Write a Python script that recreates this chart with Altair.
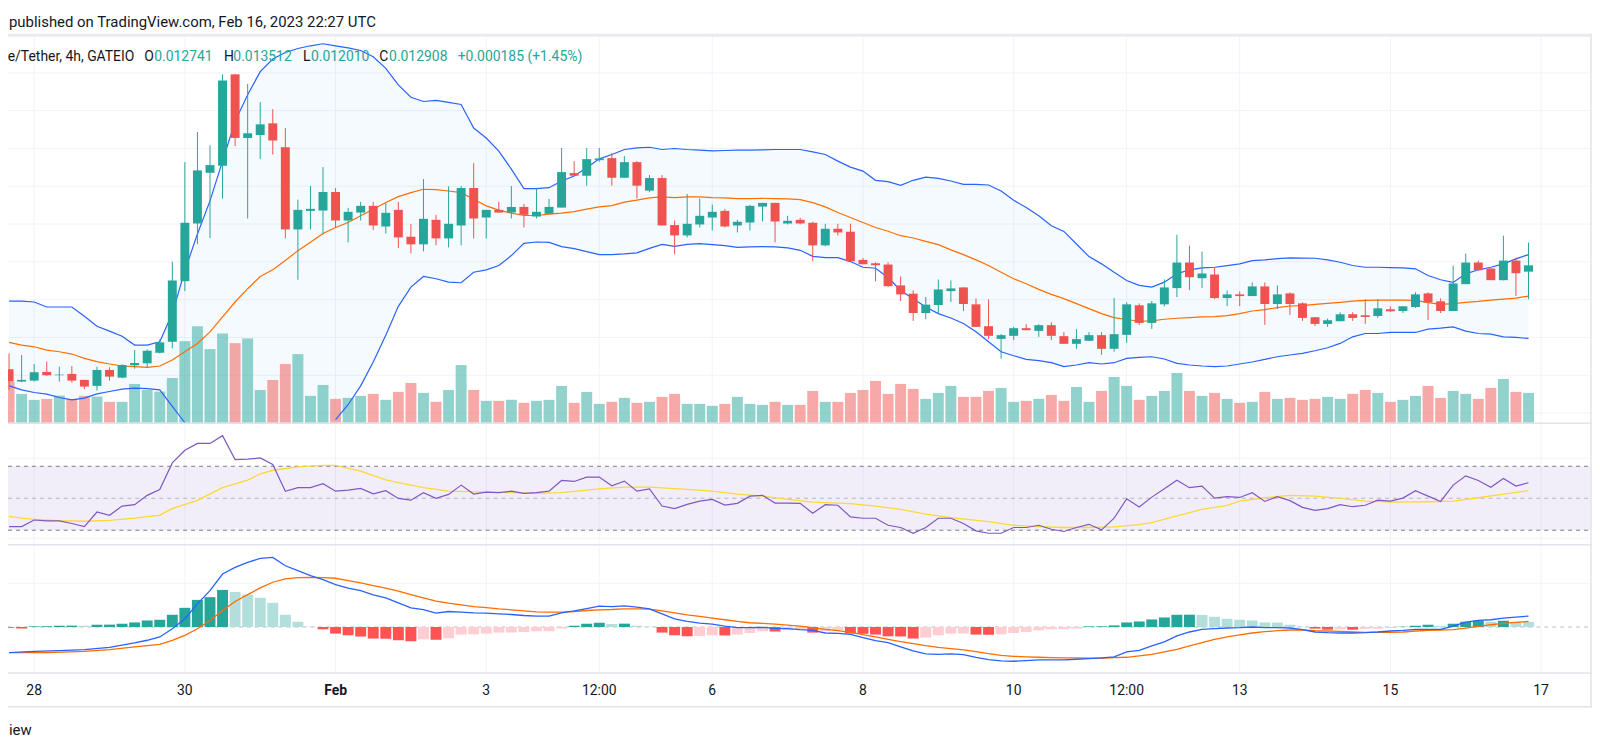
import altair as alt
import pandas as pd

# ---------------- data ----------------
opens = [0.010160, 0.009834, 0.009860, 0.010089, 0.010002, 0.010036, 0.009878, 0.009720, 0.010141, 0.009939,
         0.010265, 0.010317, 0.010596, 0.010886, 0.012490, 0.014015, 0.015356, 0.015541, 0.017960, 0.016277,
         0.016356, 0.016664, 0.016032, 0.013857, 0.014349, 0.014357, 0.014849, 0.014094, 0.014304, 0.014481,
         0.013936, 0.014375, 0.013665, 0.013463, 0.014112, 0.013621, 0.013963, 0.014954, 0.014173, 0.014375,
         0.014304, 0.014454, 0.014199, 0.014270, 0.014436, 0.015349, 0.015278, 0.015690, 0.015743, 0.015225,
         0.015638, 0.014883, 0.015217, 0.013973, 0.013700, 0.013989, 0.014173, 0.014349, 0.013963, 0.014041,
         0.014462, 0.014560, 0.014015, 0.014112, 0.014034, 0.013437, 0.013876, 0.013797, 0.013052, 0.012963,
         0.012929, 0.012377, 0.012158, 0.011648, 0.011859, 0.012227, 0.012324, 0.011877, 0.011298, 0.010964,
         0.011043, 0.011246, 0.011175, 0.011325, 0.011035, 0.010833, 0.010912, 0.011062, 0.010701, 0.011070,
         0.011851, 0.011385, 0.011877, 0.012306, 0.012982, 0.012569, 0.012666, 0.012043, 0.012140, 0.012095,
         0.012350, 0.011885, 0.012166, 0.011903, 0.011535, 0.011359, 0.011430, 0.011614, 0.011588, 0.011569,
         0.011746, 0.011701, 0.011806, 0.012166, 0.011956, 0.011701, 0.012411, 0.012982, 0.012824, 0.012516,
         0.013034, 0.012741]
highs = [0.010580, 0.010536, 0.010299, 0.010360, 0.010228, 0.010246, 0.009885, 0.010228, 0.010212, 0.010290,
         0.010667, 0.010686, 0.010949, 0.013008, 0.015638, 0.016435, 0.016085, 0.017960, 0.017960, 0.017708,
         0.017224, 0.017040, 0.016540, 0.014646, 0.015007, 0.015506, 0.014954, 0.014428, 0.014586, 0.014586,
         0.014552, 0.014586, 0.013999, 0.015191, 0.014244, 0.014999, 0.015007, 0.015612, 0.014375, 0.014586,
         0.015007, 0.014533, 0.014936, 0.014665, 0.016014, 0.015664, 0.016014, 0.016014, 0.015875, 0.015796,
         0.015664, 0.015296, 0.015296, 0.014094, 0.014796, 0.014673, 0.014515, 0.014402, 0.014112, 0.014507,
         0.014560, 0.014565, 0.014218, 0.014165, 0.014060, 0.014007, 0.014007, 0.014007, 0.013104, 0.012989,
         0.012989, 0.012613, 0.012245, 0.012069, 0.012534, 0.012508, 0.012330, 0.012035, 0.012008, 0.011088,
         0.011280, 0.011351, 0.011351, 0.011404, 0.011141, 0.011220, 0.011141, 0.011141, 0.012043, 0.011930,
         0.011903, 0.011964, 0.012534, 0.013718, 0.013429, 0.013271, 0.012850, 0.012245, 0.012219, 0.012456,
         0.012456, 0.012377, 0.012192, 0.011930, 0.011540, 0.011501, 0.011667, 0.011667, 0.012008, 0.012008,
         0.011824, 0.011830, 0.012193, 0.012193, 0.012035, 0.012903, 0.013218, 0.013034, 0.012830, 0.013692,
         0.013113, 0.013512]
lows = [0.009615, 0.009818, 0.009834, 0.009984, 0.009834, 0.009807, 0.009634, 0.009597, 0.009860, 0.009923,
        0.010175, 0.010202, 0.010580, 0.010712, 0.012227, 0.013473, 0.013631, 0.014673, 0.016059, 0.014147,
        0.015725, 0.015840, 0.013621, 0.012527, 0.013857, 0.013726, 0.013910, 0.013515, 0.014094, 0.013842,
        0.013752, 0.013368, 0.013226, 0.013279, 0.013437, 0.013384, 0.013437, 0.013621, 0.013621, 0.014304,
        0.014147, 0.013910, 0.014147, 0.014270, 0.014436, 0.015278, 0.015015, 0.015646, 0.015015, 0.015225,
        0.014673, 0.014841, 0.013963, 0.013200, 0.013647, 0.013910, 0.013831, 0.013910, 0.013778, 0.013831,
        0.014068, 0.013515, 0.013989, 0.013989, 0.013016, 0.013410, 0.013700, 0.013016, 0.012937, 0.012482,
        0.012332, 0.011964, 0.011438, 0.011482, 0.011632, 0.011937, 0.011701, 0.011280, 0.010957, 0.010438,
        0.010930, 0.011193, 0.011017, 0.010930, 0.010833, 0.010701, 0.010912, 0.010544, 0.010622, 0.010859,
        0.011333, 0.011227, 0.011824, 0.012069, 0.012253, 0.012306, 0.012016, 0.011832, 0.011832, 0.012095,
        0.011333, 0.011753, 0.011596, 0.011438, 0.011306, 0.011280, 0.011430, 0.011438, 0.011359, 0.011517,
        0.011675, 0.011648, 0.011780, 0.011464, 0.011648, 0.011701, 0.012411, 0.012779, 0.012516, 0.012510,
        0.012095, 0.012010]
closes = [0.009834, 0.009878, 0.010081, 0.010002, 0.010018, 0.009860, 0.009702, 0.010141, 0.009965, 0.010273,
          0.010325, 0.010649, 0.010870, 0.012508, 0.014034, 0.015420, 0.015559, 0.017794, 0.016277, 0.016401,
          0.016637, 0.016209, 0.013857, 0.014375, 0.014402, 0.014849, 0.014094, 0.014323, 0.014481, 0.013963,
          0.014297, 0.013647, 0.013463, 0.014139, 0.013621, 0.014007, 0.014954, 0.014147, 0.014375, 0.014304,
          0.014454, 0.014244, 0.014323, 0.014454, 0.015375, 0.015278, 0.015717, 0.015735, 0.015225, 0.015638,
          0.015015, 0.015217, 0.013963, 0.013700, 0.014007, 0.014218, 0.014323, 0.013936, 0.014060, 0.014481,
          0.014560, 0.014068, 0.014086, 0.014015, 0.013437, 0.013876, 0.013778, 0.013016, 0.012937, 0.012911,
          0.012358, 0.012140, 0.011648, 0.011869, 0.012271, 0.012298, 0.011885, 0.011280, 0.011043, 0.011062,
          0.011246, 0.011193, 0.011325, 0.011043, 0.010833, 0.010957, 0.011062, 0.010701, 0.011088, 0.011877,
          0.011385, 0.011903, 0.012324, 0.012982, 0.012595, 0.012692, 0.012043, 0.012140, 0.012095, 0.012350,
          0.011885, 0.012140, 0.011885, 0.011517, 0.011359, 0.011456, 0.011614, 0.011517, 0.011543, 0.011772,
          0.011693, 0.011824, 0.012140, 0.011930, 0.011701, 0.012429, 0.012982, 0.012779, 0.012516, 0.013034,
          0.012700, 0.012908]
volumes = [413000, 290000, 230000, 240000, 273000, 240000, 270000, 263000, 210000, 210000,
           390000, 330000, 313000, 450000, 820000, 970000, 740000, 897000, 800000, 847000,
           330000, 430000, 590000, 690000, 270000, 380000, 240000, 250000, 270000, 290000,
           230000, 310000, 400000, 300000, 210000, 330000, 580000, 330000, 220000, 220000,
           230000, 200000, 220000, 230000, 370000, 200000, 310000, 190000, 210000, 250000,
           200000, 210000, 260000, 290000, 190000, 190000, 170000, 190000, 260000, 190000,
           180000, 210000, 180000, 180000, 320000, 210000, 210000, 300000, 330000, 420000,
           290000, 390000, 340000, 240000, 300000, 370000, 260000, 260000, 320000, 350000,
           210000, 220000, 240000, 280000, 220000, 360000, 210000, 320000, 460000, 370000,
           230000, 270000, 320000, 500000, 320000, 270000, 300000, 240000, 200000, 210000,
           310000, 240000, 250000, 230000, 240000, 260000, 240000, 290000, 330000, 300000,
           210000, 230000, 270000, 370000, 250000, 320000, 290000, 240000, 350000, 440000,
           310000, 300000]
bb_upper = [0.011964, 0.011964, 0.011938, 0.011806, 0.011806, 0.011806, 0.011561, 0.011298, 0.011167, 0.011035,
            0.010799, 0.010799, 0.010886, 0.011632, 0.012771, 0.013736, 0.014612, 0.015664, 0.016716, 0.017418,
            0.018031, 0.018365, 0.018539, 0.018644, 0.018715, 0.018768, 0.018715, 0.018662, 0.018591, 0.018426,
            0.018118, 0.017681, 0.017355, 0.017242, 0.017269, 0.017216, 0.017163, 0.016540, 0.016277, 0.015927,
            0.015454, 0.014936, 0.014936, 0.014962, 0.015138, 0.015270, 0.015488, 0.015725, 0.015840, 0.015972,
            0.016014, 0.016032, 0.015972, 0.015998, 0.015972, 0.015954, 0.015935, 0.015946, 0.015954, 0.015954,
            0.015961, 0.015972, 0.015972, 0.015972, 0.015909, 0.015840, 0.015664, 0.015506, 0.015401, 0.015157,
            0.015120, 0.015025, 0.015157, 0.015243, 0.015209, 0.015138, 0.015051, 0.015051, 0.015033, 0.014875,
            0.014631, 0.014436, 0.014218, 0.013955, 0.013805, 0.013473, 0.013139, 0.012947, 0.012727, 0.012508,
            0.012377, 0.012332, 0.012464, 0.012684, 0.012790, 0.012842, 0.012858, 0.012903, 0.012947, 0.013034,
            0.013053, 0.013087, 0.013105, 0.013100, 0.013095, 0.013053, 0.012990, 0.012903, 0.012858, 0.012858,
            0.012850, 0.012842, 0.012816, 0.012640, 0.012527, 0.012456, 0.012684, 0.012790, 0.012858, 0.012947,
            0.013079, 0.013192]
bb_basis = [0.010870, 0.010799, 0.010754, 0.010667, 0.010623, 0.010562, 0.010449, 0.010360, 0.010299, 0.010246,
            0.010228, 0.010212, 0.010246, 0.010404, 0.010623, 0.010843, 0.011149, 0.011543, 0.011938, 0.012290,
            0.012613, 0.012790, 0.013034, 0.013297, 0.013516, 0.013752, 0.013910, 0.014042, 0.014218, 0.014394,
            0.014568, 0.014725, 0.014831, 0.014920, 0.014909, 0.014875, 0.014831, 0.014657, 0.014481, 0.014368,
            0.014289, 0.014226, 0.014226, 0.014262, 0.014289, 0.014331, 0.014394, 0.014454, 0.014489, 0.014578,
            0.014631, 0.014691, 0.014717, 0.014699, 0.014717, 0.014717, 0.014699, 0.014691, 0.014673, 0.014673,
            0.014683, 0.014673, 0.014665, 0.014646, 0.014568, 0.014454, 0.014305, 0.014173, 0.014042, 0.013910,
            0.013810, 0.013692, 0.013631, 0.013542, 0.013455, 0.013316, 0.013192, 0.013053, 0.012903, 0.012727,
            0.012553, 0.012421, 0.012272, 0.012140, 0.012027, 0.011895, 0.011764, 0.011632, 0.011527, 0.011475,
            0.011430, 0.011438, 0.011483, 0.011509, 0.011527, 0.011543, 0.011554, 0.011580, 0.011632, 0.011701,
            0.011738, 0.011790, 0.011832, 0.011843, 0.011877, 0.011903, 0.011930, 0.011964, 0.011982, 0.011990,
            0.011990, 0.011990, 0.011982, 0.011922, 0.011877, 0.011895, 0.011930, 0.011956, 0.011990, 0.012016,
            0.012043, 0.012095]
bb_lower = [0.009720, 0.009615, 0.009544, 0.009502, 0.009413, 0.009352, 0.009397, 0.009510, 0.009571, 0.009634,
            0.009660, 0.009649, 0.009615, 0.009176, 0.008616, 0.008169, 0.007827, 0.007511, 0.007196, 0.006985,
            0.006933, 0.007038, 0.007301, 0.007643, 0.007985, 0.008379, 0.008826, 0.009221, 0.009720, 0.010352,
            0.011062, 0.011824, 0.012332, 0.012613, 0.012553, 0.012464, 0.012448, 0.012727, 0.012790, 0.012903,
            0.013166, 0.013489, 0.013526, 0.013516, 0.013402, 0.013350, 0.013271, 0.013192, 0.013192, 0.013210,
            0.013237, 0.013357, 0.013463, 0.013410, 0.013463, 0.013481, 0.013455, 0.013429, 0.013384, 0.013395,
            0.013402, 0.013395, 0.013368, 0.013305, 0.013147, 0.013113, 0.013113, 0.013008, 0.012858, 0.012832,
            0.012587, 0.012245, 0.012027, 0.011806, 0.011632, 0.011517, 0.011369, 0.011149, 0.010886, 0.010623,
            0.010517, 0.010423, 0.010386, 0.010333, 0.010228, 0.010273, 0.010333, 0.010299, 0.010333, 0.010449,
            0.010475, 0.010491, 0.010431, 0.010317, 0.010273, 0.010246, 0.010228, 0.010246, 0.010299, 0.010352,
            0.010423, 0.010491, 0.010536, 0.010580, 0.010649, 0.010728, 0.010843, 0.011017, 0.011106, 0.011106,
            0.011133, 0.011133, 0.011133, 0.011220, 0.011246, 0.011280, 0.011167, 0.011106, 0.011088, 0.011017,
            0.011001, 0.010975]
rsi = [32.3, 32.3, 36.4, 35.8, 35.8, 34.2, 32.3, 41.4, 39.3, 45.1,
       46.0, 51.8, 55.5, 72.1, 80.0, 84.3, 84.3, 89.1, 74.2, 74.4,
       75.2, 71.1, 54.4, 56.6, 56.6, 59.1, 54.4, 55.1, 56.1, 52.8,
       54.7, 49.9, 48.8, 53.5, 49.9, 52.4, 58.2, 52.6, 53.8, 53.5,
       54.4, 53.0, 53.5, 54.4, 61.1, 60.5, 63.2, 63.2, 57.8, 60.7,
       54.4, 55.9, 45.1, 43.5, 46.2, 48.2, 49.3, 45.7, 46.8, 51.3,
       51.8, 47.0, 47.0, 46.8, 40.6, 46.0, 45.6, 38.3, 37.5, 37.5,
       33.1, 31.7, 28.1, 31.7, 37.5, 37.5, 34.2, 29.6, 28.1, 28.1,
       31.7, 31.7, 33.1, 30.6, 29.2, 31.7, 33.7, 30.2, 37.5, 49.7,
       44.5, 50.7, 55.9, 61.3, 56.6, 57.6, 50.1, 51.0, 50.5, 53.5,
       48.0, 51.0, 48.5, 44.3, 42.4, 43.5, 46.0, 44.7, 45.6, 48.8,
       48.2, 50.1, 54.7, 51.3, 48.0, 58.2, 64.0, 61.1, 56.9, 62.3,
       57.6, 59.7]
rsi_ma_idx = [0, 1, 2, 4, 6, 8, 10, 12, 13, 15, 17, 19, 20, 21, 23, 25, 26, 28, 30, 31, 33, 35, 38, 40, 42,
              44, 47, 49, 51, 54, 56, 58, 60, 62, 64, 67, 69, 71, 73, 75, 78, 80, 82, 84, 86, 88, 90, 91,
              93, 95, 97, 98, 100, 102, 104, 106, 108, 110, 113, 115, 117, 119, 121]
rsi_ma = [38.7, 37.5, 36.8, 36.0, 35.6, 36.2, 37.5, 39.5, 43.5, 48.7, 56.6, 61.3, 65.3, 67.5, 69.6, 70.6, 70.6,
          67.0, 61.5, 59.7, 56.6, 54.4, 53.8, 53.5, 53.0, 53.5, 55.9, 56.9, 56.9, 55.5, 54.4, 52.6, 51.3, 49.3,
          47.6, 46.6, 45.1, 43.1, 40.0, 37.9, 35.4, 33.1, 32.3, 31.7, 31.7, 32.1, 33.5, 34.8, 38.9, 43.1, 45.6,
          48.2, 50.3, 51.8, 51.3, 49.9, 48.2, 47.6, 47.8, 48.2, 50.3, 52.6, 54.7]
# MACD pane values, in units of 1e-5
macd_idx = [0, 2, 4, 6, 8, 10, 11] + list(range(12, 122))
macd_e5 = [-25.7, -24.4, -23.7, -22.7, -20.4, -16.0, -13.3,
           -10, -1.7, 8.3, 23.3, 36.6, 53.3, 60, 65, 69, 70,
           61.6, 56.6, 51.6, 47.6, 42.6, 39, 36.6, 32.3, 29.3, 24.3,
           19.3, 17.6, 14, 15.6, 15, 14.3, 14, 13.3, 12.6, 11.6,
           11, 11, 14.3, 16.3, 18.6, 21, 20.6, 21.3, 20, 18.3,
           13.3, 8.3, 5.6, 4, 3, 1, -0.7, -0.7, -0.4, -1.4,
           -1.7, -2.7, -3.4, -6, -6.4, -7.4, -10.7, -13.7, -15.7, -20,
           -24, -27, -27.4, -27, -27.7, -30.4, -32.7, -34, -34.4, -33.7,
           -33, -33, -33, -32.4, -31.7, -31, -30, -25, -23.4, -19,
           -15, -9, -5, -2.4, -1.7, -1, -0.7, 0, -0.7, -0.7,
           -1, -2.7, -5, -5.7, -6, -6, -5.7, -5, -4, -3.4,
           -2.4, -2.4, -2.4, 1, 5, 6.6, 7.3, 9, 10, 11]
signal_idx = [0, 3, 6, 8, 10] + list(range(12, 122))
signal_e5 = [-25.7, -25.7, -24.4, -22.7, -20.0,
             -17.4, -13.4, -8.4, -1.7, 6.6, 16.6, 25.6, 32.6, 39.3, 45,
             48.3, 49.6, 50, 49.6, 49, 46.6, 44.3, 41.6, 39, 36,
             32.6, 29.3, 26, 24, 22.3, 20.6, 19.6, 18.3, 17.3, 16.3,
             15.3, 15, 15, 15.6, 16.6, 17.3, 17.6, 18.3, 18.3, 18,
             16.3, 14.3, 12.3, 10.6, 9, 7.3, 5.6, 4.3, 3.6, 3,
             2, 1, -0.7, -2.4, -3.7, -5.4, -7.7, -10, -12.4, -14.7,
             -16.7, -18.7, -20.4, -21.7, -23, -24.7, -26.7, -28.4, -29.4, -30,
             -30.4, -30.7, -31, -31, -31.4, -31.4, -30.7, -30.4, -29, -27.4,
             -25, -22.4, -19, -15.7, -12.4, -10, -8, -6, -4.7, -3.7,
             -3, -3, -3.7, -4, -4.4, -5, -5.4, -5.4, -5.4, -5,
             -4, -3.4, -3, -2.7, -1, 0.6, 2.3, 3.6, 4.6, 5.6]
hist_e5 = [-0.7, -1.5, 0.7, 0.8, 1.3, 1.4, 1.3, 2.3, 2.4, 3.3,
           4.6, 6.6, 7.3, 12.3, 19.3, 27.3, 30, 37.3, 35.3, 32.6,
           29.3, 24.3, 12.3, 5.3, 0.3, -2.3, -6.6, -8.3, -9.6, -11.6,
           -11.8, -13.3, -14.3, -12.4, -12.8, -11.3, -7.6, -7.3, -6.6, -5.6,
           -5.5, -5, -4.3, -4.2, -1.6, 1.3, 3.3, 4.3, 3.0, 3.4,
           1.3, 0.3, -5.6, -8.3, -9.3, -9.0, -8.3, -8.5, -7.6, -6,
           -4.3, -4.5, -3.3, -2.3, -5.6, -4, -3, -6.6, -6.8, -7.6,
           -9.3, -9.5, -11.6, -10.6, -8.3, -6.6, -6.5, -7.6, -7.8, -7.3,
           -6, -5, -3.3, -2.3, -2.2, -1.6, 0.6, 0.7, 1.6, 4.6,
           5.6, 7.6, 9.6, 12.3, 12.4, 12.2, 10.3, 8.3, 7.3, 6.6,
           4.6, 4.5, 2.3, 0.3, -1.6, -2.7, -2.3, -2.7, -2.0, -1.7,
           -1.0, 0.3, 1.3, 2.3, 1.0, 3.3, 5.3, 6.3, 5.3, 6.3, 5.4, 5.2]
tick_idx = [2, 14, 26, 38, 47, 56, 68, 80, 89, 98, 110, 122]
tick_labels = ["28", "30", "Feb", "3", "12:00", "6", "8", "10", "12:00", "13", "15", "17"]
price_grid = [0.009, 0.010, 0.011, 0.012, 0.013, 0.014, 0.015, 0.016, 0.017, 0.018]
rsi_levels_grid = [25, 75]
macd_grid = [0.00044]

# ---------------- frames ----------------
N = len(closes)
df = pd.DataFrame({"i": list(range(N)), "o": opens, "h": highs, "l": lows, "c": closes,
                   "v": volumes, "bbu": bb_upper, "bbm": bb_basis, "bbl": bb_lower, "rsi": rsi})
df["up"] = df["c"] >= df["o"]
up = df[df["up"]]
dn = df[~df["up"]]
low_a = df[df["i"] <= 14].assign(seg="a")
low_b = df[df["i"] >= 26].assign(seg="b")
low_seg = pd.concat([low_a, low_b])

rma = pd.DataFrame({"i": rsi_ma_idx, "v": rsi_ma})
mac = pd.DataFrame({"i": macd_idx, "v": [x * 1e-5 for x in macd_e5]})
sig = pd.DataFrame({"i": signal_idx, "v": [x * 1e-5 for x in signal_e5]})
hv = [x * 1e-5 for x in hist_e5]
cats = []
for k, h in enumerate(hv):
    prev = hv[k - 1] if k > 0 else 0.0
    if h >= 0:
        cats.append("gu" if h > prev else "gd")
    else:
        cats.append("rd" if h < prev else "ru")
hist = pd.DataFrame({"i": list(range(N)), "v": hv, "k": cats})
ticks = pd.DataFrame({"i": tick_idx, "lab": tick_labels})

# ---------------- scales ----------------
XDOM = [-0.3228, 125.66]


def X(f="i"):
    return alt.X(f + ":Q", scale=alt.Scale(domain=XDOM, nice=False, zero=False), axis=None)


def YS(f, domain, rng, clamp=False):
    return alt.Y(f + ":Q", scale=alt.Scale(domain=domain, range=rng, nice=False, zero=False, clamp=clamp), axis=None)


PD, PR = [0.0087447, 0.0189553], [423, 35]
VD = [0, 3880000]
RD, RR = [21.3, 97.2], [545, 423]
MD, MR = [-0.000457, 0.000823], [674, 546]

GRID = "#f0f3fa"
UP, DN = "#26a69a", "#ef5350"
FONT = "Roboto"
layers = []

# grids
layers.append(alt.Chart(pd.DataFrame({"p": price_grid})).mark_rule(color=GRID, strokeWidth=1)
              .encode(y=YS("p", PD, PR), x=alt.value(0), x2=alt.value(1599)))
layers.append(alt.Chart(pd.DataFrame({"r": rsi_levels_grid})).mark_rule(color=GRID, strokeWidth=1)
              .encode(y=YS("r", RD, RR), x=alt.value(0), x2=alt.value(1599)))
layers.append(alt.Chart(pd.DataFrame({"m": macd_grid})).mark_rule(color=GRID, strokeWidth=1)
              .encode(y=YS("m", MD, MR), x=alt.value(0), x2=alt.value(1599)))
layers.append(alt.Chart(ticks).mark_rule(color=GRID, strokeWidth=1)
              .encode(x=X(), y=alt.value(35), y2=alt.value(674)))

# Bollinger fill
layers.append(alt.Chart(df).mark_area(color="#2196f3", opacity=0.05)
              .encode(x=X(), y=YS("bbu", PD, PR, True), y2="bbl:Q"))
# volume
for part, col in ((up, UP), (dn, DN)):
    layers.append(alt.Chart(part).mark_bar(size=11, color=col, opacity=0.5)
                  .encode(x=X(), y=YS("v", VD, PR)))
# Bollinger lines
layers.append(alt.Chart(df).mark_line(color="#2962ff", strokeWidth=1.2)
              .encode(x=X(), y=YS("bbu", PD, PR, True)))
layers.append(alt.Chart(df).mark_line(color="#ff6d00", strokeWidth=1.2)
              .encode(x=X(), y=YS("bbm", PD, PR, True)))
layers.append(alt.Chart(low_seg).mark_line(color="#2962ff", strokeWidth=1.2)
              .encode(x=X(), y=YS("bbl", PD, PR, True), detail="seg:N"))
# candles
for part, col in ((up, UP), (dn, DN)):
    layers.append(alt.Chart(part).mark_rule(color=col, strokeWidth=1)
                  .encode(x=X(), y=YS("l", PD, PR), y2="h:Q"))
    layers.append(alt.Chart(part).mark_bar(size=9, color=col)
                  .encode(x=X(), y=YS("o", PD, PR), y2="c:Q"))

# RSI pane
layers.append(alt.Chart(pd.DataFrame({"a": [70], "b": [30]})).mark_rect(color="#7e57c2", opacity=0.1)
              .encode(y=YS("a", RD, RR), y2="b:Q", x=alt.value(0), x2=alt.value(1599)))
layers.append(alt.Chart(pd.DataFrame({"r": [70, 30]})).mark_rule(color="#787b86", strokeWidth=1, strokeDash=[4, 4])
              .encode(y=YS("r", RD, RR), x=alt.value(0), x2=alt.value(1599)))
layers.append(alt.Chart(pd.DataFrame({"r": [50]})).mark_rule(color="#787b86", opacity=0.5, strokeWidth=1,
                                                             strokeDash=[4, 4])
              .encode(y=YS("r", RD, RR), x=alt.value(0), x2=alt.value(1599)))
layers.append(alt.Chart(rma).mark_line(color="#fdd835", strokeWidth=1.3)
              .encode(x=X(), y=YS("v", RD, RR)))
layers.append(alt.Chart(df).mark_line(color="#7e57c2", strokeWidth=1.2)
              .encode(x=X(), y=YS("rsi", RD, RR)))

# MACD pane
layers.append(alt.Chart(pd.DataFrame({"m": [0.0]})).mark_rule(color="#787b86", opacity=0.5, strokeWidth=1,
                                                              strokeDash=[4, 4])
              .encode(y=YS("m", MD, MR), x=alt.value(0), x2=alt.value(1599)))
for key, col in (("gu", "#26a69a"), ("gd", "#b2dfdb"), ("rd", "#ff5252"), ("ru", "#ffcdd2")):
    part = hist[hist["k"] == key]
    layers.append(alt.Chart(part).mark_bar(size=11, color=col)
                  .encode(x=X(), y=YS("v", MD, MR)))
layers.append(alt.Chart(sig).mark_line(color="#ff6d00", strokeWidth=1.3)
              .encode(x=X(), y=YS("v", MD, MR)))
layers.append(alt.Chart(mac).mark_line(color="#2962ff", strokeWidth=1.3)
              .encode(x=X(), y=YS("v", MD, MR)))

# separators
one = pd.DataFrame({"z": [0]})
layers.append(alt.Chart(one).mark_rule(color="#e9ebf1", strokeWidth=3)
              .encode(x=alt.value(0), x2=alt.value(1600), y=alt.value(33.5)))
for yy in (423.5, 545.5, 674.5, 708.5):
    layers.append(alt.Chart(one).mark_rule(color="#e0e3eb", strokeWidth=1.5)
                  .encode(x=alt.value(0), x2=alt.value(1600), y=alt.value(yy)))
layers.append(alt.Chart(one).mark_rule(color="#e0e3eb", strokeWidth=1.5)
              .encode(x=alt.value(1599), y=alt.value(35), y2=alt.value(709)))

# x labels
layers.append(alt.Chart(ticks[ticks["lab"] != "Feb"]).mark_text(font=FONT, fontSize=14, color="#131722",
                                                                 align="center", baseline="alphabetic")
              .encode(x=X(), y=alt.value(697), text="lab:N"))
layers.append(alt.Chart(ticks[ticks["lab"] == "Feb"]).mark_text(font=FONT, fontSize=14, color="#131722",
                                                                 fontWeight="bold", align="center",
                                                                 baseline="alphabetic")
              .encode(x=X(), y=alt.value(697), text="lab:N"))


def txt(s, x, y, color="#131722", size=14, align="left", weight="normal"):
    return (alt.Chart(pd.DataFrame({"t": [s]}))
            .mark_text(font=FONT, fontSize=size, color=color, align=align, baseline="alphabetic",
                       fontWeight=weight)
            .encode(text="t:N", x=alt.value(x), y=alt.value(y)))


layers.append(txt("published on TradingView.com, Feb 16, 2023 22:27 UTC", 9, 25, size=15))
layers.append(txt("e/Tether, 4h, GATEIO", 135, 59, align="right"))
layers.append(txt("O", 145, 59))
layers.append(txt("0.012741", 155, 59, color=UP))
layers.append(txt("H", 225, 59))
layers.append(txt("0.013512", 234.5, 59, color=UP))
layers.append(txt("L", 304.5, 59))
layers.append(txt("0.012010", 312.5, 59, color=UP))
layers.append(txt("C", 381, 59))
layers.append(txt("0.012908", 391, 59, color=UP))
layers.append(txt("+0.000185 (+1.45%)", 460, 59, color=UP))
layers.append(txt("iew", 9, 737, size=15))

chart = (alt.layer(*layers)
         .resolve_scale(y="independent")
         .properties(width=1600, height=740,
                     padding={"left": -8, "top": -8, "right": 0, "bottom": 0},
                     autosize=alt.AutoSizeParams(type="none"),
                     background="white")
         .configure_view(strokeWidth=0))

chart.save("out.html", embed_options={"renderer": "svg", "actions": False})
